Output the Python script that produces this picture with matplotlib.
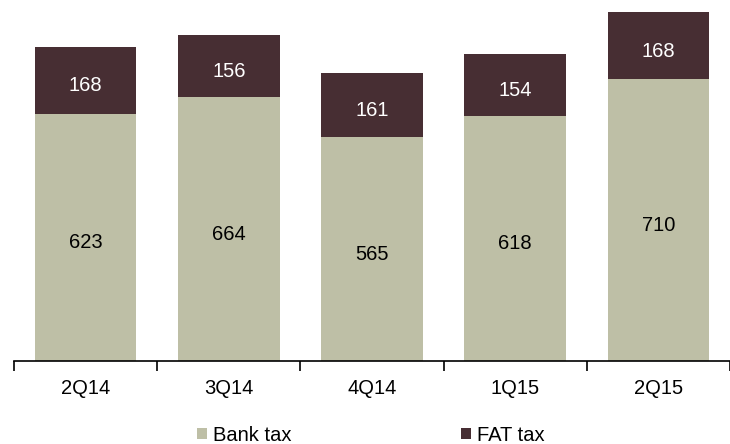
import numpy as np
import matplotlib
matplotlib.use("Agg")
import matplotlib.pyplot as plt

quarters = ["2Q14", "3Q14", "4Q14", "1Q15", "2Q15"]
bank_tax = [623, 664, 565, 618, 710]
fat_tax = [168, 156, 161, 154, 168]

bank_col = "#BEBFA6"
fat_col = "#472E33"

plt.rcParams['font.family'] = ['Liberation Sans', 'DejaVu Sans']

fig = plt.figure(figsize=(7.3, 4.44), dpi=100)
ax = fig.add_axes([14/730, 83/444, 716/730, 361/444])

x = np.arange(len(quarters))
w = 0.71
b1 = ax.bar(x, bank_tax, w, color=bank_col, label="Bank tax")
b2 = ax.bar(x, fat_tax, w, bottom=bank_tax, color=fat_col, label="FAT tax")

# labels sit a little below the segment centre, as in the source
for i in range(len(quarters)):
    ax.annotate(str(bank_tax[i]), (x[i], bank_tax[i]/2), xytext=(0, -4),
                textcoords='offset points', ha='center', va='center',
                fontsize=14.5, color='black')
    ax.annotate(str(fat_tax[i]), (x[i], bank_tax[i] + fat_tax[i]/2), xytext=(0, -4),
                textcoords='offset points', ha='center', va='center',
                fontsize=14.5, color='white')

ax.set_xlim(-0.5, len(quarters) - 0.5)
ax.set_ylim(0, 909)
for s in ['top', 'right', 'left']:
    ax.spines[s].set_visible(False)
ax.spines['bottom'].set_linewidth(1.2)
ax.set_yticks([])

ax.set_xticks(np.arange(len(quarters) + 1) - 0.5)
ax.set_xticklabels([])
ax.set_xticks(x, minor=True)
ax.set_xticklabels(quarters, minor=True, fontsize=14.5)
ax.tick_params(axis='x', which='major', direction='out', length=7, width=1.2)
ax.tick_params(axis='x', which='minor', length=0, pad=13)

fig.legend(handles=[b1, b2], loc='center', bbox_to_anchor=(371/730, 1 - 435/444),
           ncol=2, frameon=False, fontsize=14.5, handlelength=0.5, handleheight=0.5,
           handletextpad=0.3, columnspacing=8.4)

fig.savefig("out.png", dpi=100)
